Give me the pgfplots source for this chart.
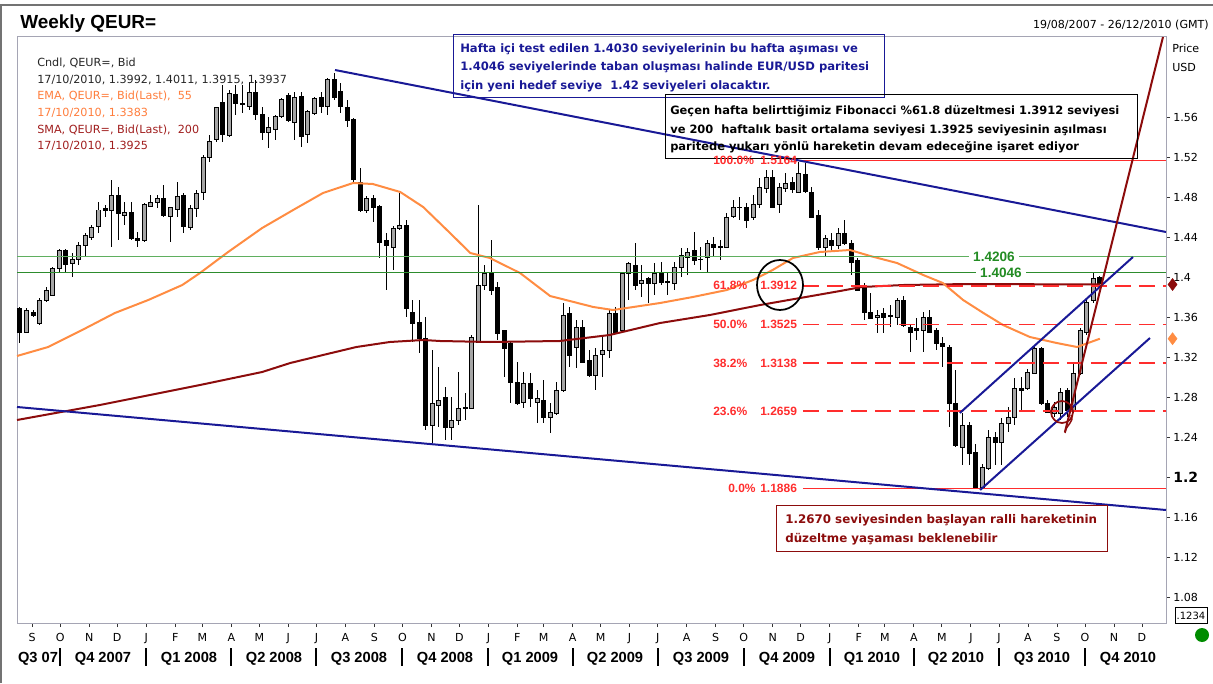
\documentclass[border=0pt]{standalone}
\usepackage{pgfplots}
\pgfplotsset{compat=1.18}
\usepackage{pgfplotstable}
\usepackage{fontspec}
\setmainfont{Liberation Sans}
\newfontfamily\dv{DejaVu Sans}

\definecolor{navyc}{RGB}{25,25,150}
\definecolor{emac}{RGB}{255,140,66}
\definecolor{smared}{RGB}{140,12,12}
\definecolor{fibred}{RGB}{255,45,45}
\definecolor{grnl}{RGB}{95,175,95}
\definecolor{grnd}{RGB}{45,140,45}
\definecolor{grntxt}{RGB}{35,140,35}
\definecolor{framec}{RGB}{165,165,180}
\definecolor{bullg}{RGB}{165,165,165}
\definecolor{legor}{RGB}{255,125,60}
\definecolor{legred}{RGB}{160,30,30}

% weekly candles, w = weeks after 19/08/2007
\pgfplotstableread{
w o h l c
0 1.369 1.370 1.334 1.345
1 1.345 1.369 1.344 1.367
2 1.365 1.367 1.360 1.362
3 1.354 1.379 1.352 1.377
4 1.377 1.390 1.375 1.387
5 1.382 1.410 1.382 1.409
6 1.409 1.428 1.404 1.427
7 1.427 1.428 1.404 1.413
8 1.414 1.424 1.400 1.418
9 1.418 1.435 1.412 1.432
10 1.432 1.444 1.420 1.442
11 1.440 1.452 1.437 1.450
12 1.450 1.475 1.444 1.467
13 1.468 1.472 1.460 1.466
14 1.467 1.497 1.430 1.482
15 1.482 1.490 1.437 1.464
16 1.462 1.475 1.452 1.465
17 1.465 1.475 1.437 1.439
18 1.439 1.445 1.430 1.437
19 1.437 1.474 1.435 1.472
20 1.471 1.482 1.470 1.475
21 1.474 1.482 1.469 1.478
22 1.479 1.492 1.460 1.462
23 1.460 1.470 1.435 1.469
24 1.467 1.495 1.460 1.480
25 1.481 1.484 1.444 1.450
26 1.450 1.472 1.447 1.469
27 1.469 1.487 1.460 1.484
28 1.484 1.522 1.477 1.519
29 1.519 1.542 1.515 1.535
30 1.537 1.570 1.535 1.569
31 1.574 1.592 1.535 1.542
32 1.542 1.587 1.540 1.584
33 1.583 1.592 1.562 1.574
34 1.574 1.592 1.564 1.573
35 1.570 1.595 1.567 1.584
36 1.584 1.597 1.557 1.562
37 1.562 1.570 1.537 1.544
38 1.544 1.560 1.529 1.549
39 1.547 1.562 1.537 1.560
40 1.560 1.579 1.559 1.577
41 1.582 1.584 1.555 1.557
42 1.555 1.585 1.537 1.580
43 1.580 1.585 1.530 1.540
44 1.542 1.567 1.534 1.565
45 1.564 1.580 1.562 1.579
46 1.579 1.585 1.564 1.570
47 1.570 1.599 1.562 1.597
48 1.597 1.604 1.577 1.579
49 1.585 1.594 1.564 1.570
50 1.570 1.577 1.550 1.557
51 1.557 1.559 1.495 1.497
52 1.495 1.509 1.465 1.467
53 1.467 1.481 1.464 1.479
54 1.479 1.482 1.455 1.470
55 1.470 1.472 1.419 1.435
56 1.437 1.444 1.387 1.432
57 1.430 1.451 1.407 1.449
58 1.449 1.484 1.447 1.452
59 1.452 1.457 1.360 1.369
60 1.365 1.377 1.335 1.354
61 1.355 1.377 1.324 1.339
62 1.339 1.360 1.247 1.252
63 1.252 1.327 1.234 1.274
64 1.272 1.310 1.250 1.277
65 1.280 1.290 1.237 1.250
66 1.250 1.280 1.237 1.257
67 1.257 1.305 1.252 1.269
68 1.269 1.284 1.257 1.270
69 1.269 1.342 1.269 1.340
70 1.335 1.472 1.335 1.392
71 1.392 1.412 1.387 1.404
72 1.405 1.437 1.382 1.387
73 1.390 1.395 1.337 1.344
74 1.347 1.347 1.300 1.329
75 1.334 1.335 1.274 1.295
76 1.295 1.315 1.272 1.274
77 1.275 1.305 1.269 1.294
78 1.294 1.304 1.270 1.279
79 1.275 1.287 1.254 1.279
80 1.277 1.297 1.254 1.260
81 1.260 1.274 1.244 1.265
82 1.264 1.295 1.262 1.287
83 1.287 1.374 1.285 1.362
84 1.364 1.370 1.310 1.322
85 1.330 1.357 1.309 1.350
86 1.350 1.357 1.314 1.315
87 1.317 1.327 1.300 1.302
88 1.302 1.329 1.287 1.322
89 1.323 1.340 1.300 1.327
90 1.327 1.367 1.319 1.364
91 1.364 1.370 1.344 1.345
92 1.347 1.405 1.345 1.404
93 1.404 1.415 1.377 1.414
94 1.412 1.434 1.387 1.392
95 1.394 1.412 1.380 1.397
96 1.399 1.400 1.374 1.394
97 1.394 1.414 1.382 1.404
98 1.405 1.415 1.392 1.395
99 1.396 1.405 1.382 1.395
100 1.394 1.415 1.387 1.410
101 1.410 1.429 1.400 1.422
102 1.420 1.429 1.402 1.425
103 1.427 1.445 1.412 1.417
104 1.418 1.430 1.407 1.418
105 1.420 1.437 1.404 1.434
106 1.433 1.440 1.420 1.430
107 1.431 1.437 1.417 1.430
108 1.430 1.464 1.429 1.460
109 1.460 1.477 1.459 1.469
110 1.470 1.480 1.457 1.470
111 1.470 1.474 1.449 1.457
112 1.459 1.482 1.457 1.472
113 1.472 1.499 1.469 1.489
114 1.489 1.507 1.484 1.500
115 1.500 1.507 1.469 1.470
116 1.472 1.494 1.464 1.489
117 1.489 1.504 1.485 1.494
118 1.494 1.500 1.484 1.487
119 1.485 1.515 1.484 1.504
120 1.502 1.514 1.484 1.485
121 1.485 1.490 1.459 1.460
122 1.462 1.467 1.427 1.430
123 1.430 1.442 1.420 1.439
124 1.437 1.444 1.427 1.432
125 1.432 1.449 1.428 1.444
126 1.444 1.457 1.432 1.434
127 1.434 1.437 1.402 1.415
128 1.417 1.419 1.386 1.387
129 1.392 1.394 1.357 1.365
130 1.365 1.384 1.359 1.359
131 1.360 1.367 1.344 1.362
132 1.364 1.369 1.344 1.360
133 1.362 1.372 1.350 1.361
134 1.360 1.379 1.352 1.377
135 1.377 1.381 1.350 1.352
136 1.350 1.352 1.325 1.345
137 1.349 1.359 1.337 1.347
138 1.347 1.365 1.325 1.360
139 1.360 1.367 1.344 1.345
140 1.347 1.349 1.327 1.334
141 1.334 1.340 1.310 1.331
142 1.330 1.332 1.250 1.274
143 1.274 1.307 1.230 1.232
144 1.230 1.264 1.212 1.252
145 1.252 1.255 1.212 1.224
146 1.225 1.233 1.188 1.190
147 1.190 1.213 1.188 1.210
148 1.209 1.247 1.207 1.240
149 1.240 1.245 1.212 1.235
150 1.235 1.259 1.212 1.254
151 1.254 1.270 1.245 1.260
152 1.260 1.299 1.252 1.289
153 1.289 1.300 1.267 1.287
154 1.289 1.308 1.287 1.305
155 1.304 1.330 1.304 1.329
156 1.329 1.330 1.272 1.274
157 1.274 1.277 1.264 1.265
158 1.264 1.275 1.260 1.270
159 1.264 1.289 1.257 1.285
160 1.287 1.289 1.260 1.267
161 1.267 1.314 1.264 1.304
162 1.304 1.349 1.302 1.347
163 1.345 1.377 1.342 1.375
164 1.377 1.404 1.374 1.399
165 1.3992 1.4011 1.3915 1.3937
}\candles

% EMA 55
\pgfplotstableread{
w v
-0.458 1.321
4.3 1.330
9.5 1.347
14.5 1.364
19.6 1.377
24.8 1.392
27.5 1.404
31.8 1.425
37.0 1.449
42.0 1.468
46.3 1.484
50.9 1.494
53.9 1.493
58.1 1.485
61.6 1.470
65.7 1.444
68.8 1.424
71.8 1.419
76.4 1.404
81.0 1.381
84.0 1.376
87.6 1.370
90.6 1.367
92.7 1.369
97.8 1.374
102.8 1.380
108.0 1.387
112.0 1.397
115.0 1.407
118.1 1.419
122.2 1.425
126.8 1.427
129.9 1.421
134.0 1.414
138.0 1.402
141.0 1.394
144.1 1.377
147.2 1.364
150.2 1.352
154.3 1.340
158.4 1.334
161.5 1.330
165.0 1.3383
}\ema

% SMA 200
\pgfplotstableread{
w v
-0.458 1.257
12.2 1.272
27.5 1.292
37.0 1.305
41.3 1.314
46.3 1.322
51.4 1.330
56.5 1.335
61.6 1.337
64.2 1.336
71.8 1.335
82.5 1.336
90.1 1.342
97.8 1.354
105.4 1.362
113.1 1.372
119.2 1.379
125.3 1.386
128.6 1.390
135.0 1.392
145.0 1.393
165.0 1.3925
}\sma

\begin{document}
\begin{tikzpicture}
\begin{axis}[
  at={(12.75pt,45pt)}, anchor=south west,
  scale only axis, width=861.75pt, height=439.5pt,
  xmin=-0.458, xmax=175.1, ymin=1.054, ymax=1.640,
  enlargelimits=false, clip=false,
  axis line style={draw=framec, line width=0.75pt},
  xtick pos=bottom, ytick pos=right, yticklabel pos=right,
  tick align=outside, major tick length=3pt,
  tick style={black!80, line width=0.6pt},
  tick label style={font=\dv\fontsize{8.3}{10}\selectfont},
  xtick={1.857,6.143,10.571,14.857,19.286,23.714,27.857,32.286,36.571,41.0,45.286,49.714,54.143,58.429,62.857,67.143,71.571,76.0,80.0,84.429,88.714,93.143,97.429,101.857,106.286,110.571,115.0,119.286,123.714,128.143,132.143,136.571,140.857,145.286,149.571,154.0,158.429,162.714,167.143,171.429},
  xticklabels={S,O,N,D,J,F,M,A,M,J,J,A,S,O,N,D,J,F,M,A,M,J,J,A,S,O,N,D,J,F,M,A,M,J,J,A,S,O,N,D},
  xticklabel style={yshift=-1pt},
  ytick={1.08,1.12,1.16,1.2,1.24,1.28,1.32,1.36,1.4,1.44,1.48,1.52,1.56},
  yticklabels={1.08,1.12,1.16,{\bfseries\fontsize{10.5}{12}\selectfont 1.2},1.24,1.28,1.32,1.36,1.4,1.44,1.48,1.52,1.56},
  yticklabel style={anchor=west, xshift=-1pt},
]
% wicks
\addplot[draw=none, mark=none, forget plot,
  error bars/.cd, y dir=both, y explicit, error mark=none,
  error bar style={draw=black, line width=0.75pt}]
  table[x=w, y expr={(\thisrow{h}+\thisrow{l})/2}, y error expr={(\thisrow{h}-\thisrow{l})/2}] {\candles};
% bodies (outline / bear fill)
\addplot[draw=none, mark=none, forget plot,
  error bars/.cd, y dir=both, y explicit, error mark=none,
  error bar style={draw=black, line width=3.75pt}]
  table[x=w, y expr={(\thisrow{o}+\thisrow{c})/2}, y error expr={abs(\thisrow{c}-\thisrow{o})/2+0.0005}] {\candles};
% bull fill
\addplot[draw=none, mark=none, forget plot,
  error bars/.cd, y dir=both, y explicit, error mark=none,
  error bar style={draw=bullg, line width=2.25pt}]
  table[x=w, y expr={(\thisrow{o}+\thisrow{c})/2}, y error expr={(\thisrow{c}>\thisrow{o})*max((\thisrow{c}-\thisrow{o})/2-0.0005,0)}] {\candles};

% moving averages
\addplot[smared, line width=1.5pt] table[x=w, y=v] {\sma};
\addplot[emac, line width=1.5pt] table[x=w, y=v] {\ema};

% Fibonacci levels
\addplot[fibred, line width=1.1pt] coordinates {(119.63,1.5164) (175.1,1.5164)};
\addplot[fibred, line width=1.2pt, dash pattern=on 12pt off 6pt] coordinates {(119.63,1.3912) (175.1,1.3912)};
\addplot[fibred, line width=1.2pt, dash pattern=on 12pt off 6pt] coordinates {(119.63,1.3525) (175.1,1.3525)};
\addplot[fibred, line width=1.2pt, dash pattern=on 12pt off 6pt] coordinates {(119.63,1.3138) (175.1,1.3138)};
\addplot[fibred, line width=1.2pt, dash pattern=on 12pt off 6pt] coordinates {(119.63,1.2659) (175.1,1.2659)};
\addplot[fibred, line width=1.1pt] coordinates {(119.63,1.1886) (175.1,1.1886)};

% green levels
\addplot[grnl, line width=1pt] coordinates {(-0.458,1.4206) (175.1,1.4206)};
\addplot[grnd, line width=0.8pt] coordinates {(-0.458,1.4046) (175.1,1.4046)};

% trend lines
\addplot[navyc, line width=1.5pt] coordinates {(48.13,1.607) (175.1,1.445)};
\addplot[navyc, line width=1.5pt] coordinates {(-0.458,1.270) (175.1,1.167)};
\addplot[navyc, line width=1.5pt] coordinates {(143.6,1.264) (170.05,1.420)};
\addplot[navyc, line width=1.5pt] coordinates {(146.7,1.187) (172.65,1.339)};
\addplot[smared, line width=1.5pt] coordinates {(159.66,1.245) (174.64,1.640)};

% last value markers
\addplot[only marks, mark=diamond*, mark size=4.5pt, color=smared] coordinates {(176.1,1.3925)};
\addplot[only marks, mark=diamond*, mark size=4.5pt, color=emac] coordinates {(176.1,1.3383)};
\end{axis}

\begin{scope}[x=0.75pt, y=-0.75pt, yshift=512.25pt]
% outer frame
\draw[black!55, line width=1.5pt] (1,683) -- (1,5.5) -- (1213,5.5);
% title and header
\node[anchor=base west, inner sep=0, font=\bfseries\fontsize{14.2}{16}\selectfont] at (20,29) {Weekly QEUR=};
\node[anchor=base east, inner sep=0, font=\dv\fontsize{8.3}{10}\selectfont] at (1209,29) {19/08/2007 - 26/12/2010 (GMT)};
\node[anchor=base west, inner sep=0, font=\dv\fontsize{8.3}{10}\selectfont] at (1172,53) {Price};
\node[anchor=base west, inner sep=0, font=\dv\fontsize{8.3}{10}\selectfont] at (1172,72) {USD};

% legend
\begin{scope}[every node/.style={anchor=base west, inner sep=0, font=\dv\fontsize{8.4}{10}\selectfont}]
\node[black!85] at (37,66.7) {Cndl, QEUR=, Bid};
\node[black!85] at (37,83.3) {17/10/2010, 1.3992, 1.4011, 1.3915, 1.3937};
\node[legor] at (37,100) {EMA, QEUR=, Bid(Last),\ \ 55};
\node[legor] at (37,116.7) {17/10/2010, 1.3383};
\node[legred] at (37,133.3) {SMA, QEUR=, Bid(Last),\ \ 200};
\node[legred] at (37,150) {17/10/2010, 1.3925};
\end{scope}

% comment boxes
\draw[navyc, line width=0.75pt] (453,35) rectangle (884,98);
\begin{scope}[every node/.style={anchor=base west, inner sep=0, font=\dv\bfseries\fontsize{8.7}{10}\selectfont}]
\node[navyc] at (460,52.7) {Hafta içi test edilen 1.4030 seviyelerinin bu hafta aşıması ve};
\node[navyc] at (460,71) {1.4046 seviyelerinde taban oluşması halinde EUR/USD paritesi};
\node[navyc] at (460,89.3) {için yeni hedef seviye\ \ 1.42 seviyeleri olacaktır.};
\end{scope}
\draw[black, line width=0.75pt] (665,95) rectangle (1137,159);
\begin{scope}[every node/.style={anchor=base west, inner sep=0, font=\dv\bfseries\fontsize{8.6}{10}\selectfont}]
\node at (670,115) {Geçen hafta belirttiğimiz Fibonacci \%61.8 düzeltmesi 1.3912 seviyesi};
\node at (670,133.3) {ve 200\ \ haftalık basit ortalama seviyesi 1.3925 seviyesinin aşılması};
\node at (670,150.7) {paritede yukarı yönlü hareketin devam edeceğine işaret ediyor};
\end{scope}
\draw[smared, line width=0.75pt] (776,505) rectangle (1107,551);
\begin{scope}[every node/.style={anchor=base west, inner sep=0, font=\dv\bfseries\fontsize{8.9}{10}\selectfont}]
\node[smared] at (785,523) {1.2670 seviyesinden başlayan ralli hareketinin};
\node[smared] at (785,542) {düzeltme yaşaması beklenebilir};
\end{scope}

% Fibonacci labels
\begin{scope}[every node/.style={anchor=west, inner sep=0, text=fibred, font=\bfseries\fontsize{9}{10}\selectfont}]
\node at (713,160.6) {100.0\%}; \node at (760,160.6) {1.5164};
\node at (713,285.8) {61.8\%};  \node at (760,285.8) {1.3912};
\node at (713,324.5) {50.0\%};  \node at (760,324.5) {1.3525};
\node at (713,363.2) {38.2\%};  \node at (760,363.2) {1.3138};
\node at (713,411.1) {23.6\%};  \node at (760,411.1) {1.2659};
\node at (728,488.4) {0.0\%};   \node at (760,488.4) {1.1886};
\end{scope}

% green level labels
\node[fill=white, inner xsep=3pt, inner ysep=0.5pt, text=grntxt, font=\bfseries\fontsize{10.2}{11}\selectfont] at (994,256.4) {1.4206};
\node[fill=white, inner xsep=3pt, inner ysep=0.5pt, text=grntxt, font=\bfseries\fontsize{10.2}{11}\selectfont] at (1001,272.4) {1.4046};

% circles
\draw[black, line width=1.3pt] (780,285) ellipse [x radius=23, y radius=25];
\draw[smared, line width=1.3pt] (1062,412) circle (11);
\draw[smared, line width=1.1pt] (1071,415) .. controls (1075,422) and (1066,424) .. (1065,433);

% bottom right widgets
\draw[black, line width=0.6pt] (1175,607) rectangle (1207,623);
\node[inner sep=0, font=\dv\fontsize{7.5}{9}\selectfont] at (1191,615.5) {.1234};
\fill[green!55!black] (1202,635) circle (7);

% quarter row
\begin{scope}[every node/.style={anchor=base, inner sep=0, font=\bfseries\fontsize{11}{12}\selectfont}]
\node at (38,662) {Q3 07};
\node at (103,662) {Q4 2007};
\node at (189,662) {Q1 2008};
\node at (274,662) {Q2 2008};
\node at (359,662) {Q3 2008};
\node at (445,662) {Q4 2008};
\node at (530,662) {Q1 2009};
\node at (615,662) {Q2 2009};
\node at (701,662) {Q3 2009};
\node at (787,662) {Q4 2009};
\node at (872,662) {Q1 2010};
\node at (956,662) {Q2 2010};
\node at (1042,662) {Q3 2010};
\node at (1128,662) {Q4 2010};
\end{scope}
\foreach \q in {60,146,231,316,402,488,573,658,744,830,914,999,1085}
  \draw[black, line width=0.9pt] (\q,648) -- (\q,666);

\pgfresetboundingbox
\path[use as bounding box] (0,0) rectangle (1213,683);
\end{scope}
\end{tikzpicture}
\end{document}
